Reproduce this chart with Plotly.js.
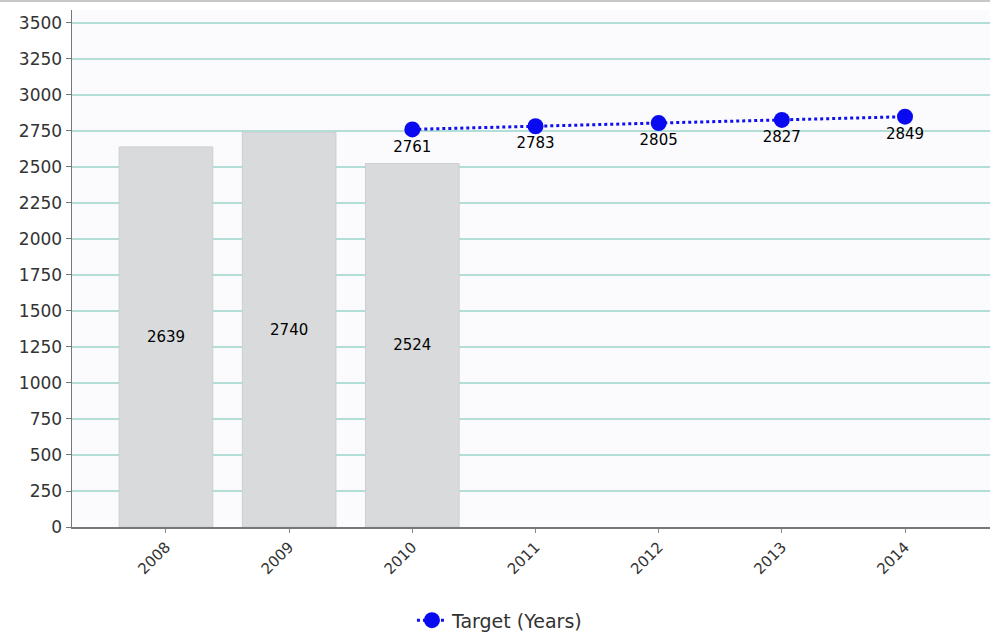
<!DOCTYPE html>
<html>
<head>
<meta charset="utf-8">
<script src="https://cdn.plot.ly/plotly-3.0.1.min.js"></script>
<style>html,body{margin:0;padding:0;background:#fff;}#chart{width:990px;height:633px;}</style>
</head>
<body>
<div id="chart"></div>
<script>
var years = ['2008', '2009', '2010', '2011', '2012', '2013', '2014'];
var actualYears = ['2008', '2009', '2010'];
var actualValues = [2639, 2740, 2524];
var targetYears = ['2010', '2011', '2012', '2013', '2014'];
var targetValues = [2761, 2783, 2805, 2827, 2849];
var targetName = 'Target (Years)';
var yTicks = [0, 250, 500, 750, 1000, 1250, 1500, 1750, 2000, 2250, 2500, 2750, 3000, 3250, 3500];

var font = 'DejaVu Sans, Verdana, sans-serif';

var bars = {
  type: 'bar',
  x: actualYears,
  y: actualValues,
  width: 0.76,
  text: actualValues.map(String),
  textposition: 'inside',
  insidetextanchor: 'middle',
  textfont: {family: font, size: 15, color: '#000'},
  marker: {color: '#d9dadc', line: {color: '#cdcecf', width: 1}},
  showlegend: false,
  hoverinfo: 'x+y'
};

var target = {
  type: 'scatter',
  mode: 'lines+markers+text',
  name: targetName,
  x: targetYears,
  y: targetValues,
  text: targetValues.map(String),
  textposition: 'bottom center',
  textfont: {family: font, size: 15, color: '#000'},
  line: {color: '#1010ee', width: 3, dash: 'dot'},
  marker: {color: '#0a0af0', size: 16, symbol: 'circle'}
};

var layout = {
  width: 990,
  height: 633,
  margin: {l: 72, r: 0, t: 10, b: 106},
  paper_bgcolor: '#ffffff',
  plot_bgcolor: '#fbfbfe',
  font: {family: font, color: '#333'},
  xaxis: {
    type: 'category',
    categoryorder: 'array',
    categoryarray: years,
    range: [-0.763, 6.69],
    tickangle: -45,
    tickfont: {family: font, size: 15, color: '#333'},
    ticks: 'outside',
    ticklen: 4,
    tickcolor: '#888',
    showline: true,
    linecolor: '#777',
    linewidth: 1.5,
    showgrid: false,
    zeroline: false
  },
  yaxis: {
    range: [0, 3590],
    tickvals: yTicks,
    ticktext: yTicks.map(String),
    tickfont: {family: font, size: 17, color: '#333'},
    ticks: 'outside',
    ticklen: 5,
    tickcolor: '#777',
    showline: true,
    linecolor: '#777',
    linewidth: 1.5,
    gridcolor: '#b3ddd7',
    gridwidth: 1.5,
    zeroline: false
  },
  showlegend: true,
  legend: {
    orientation: 'h',
    xref: 'container',
    yref: 'container',
    x: 0.505,
    xanchor: 'center',
    y: 0.02,
    yanchor: 'middle',
    font: {family: font, size: 19, color: '#333'},
    bgcolor: 'rgba(0,0,0,0)'
  },
  shapes: [{
    type: 'rect', xref: 'paper', yref: 'paper',
    x0: -0.08, x1: 1.0, y0: 1.0155, y1: 1.0195,
    line: {width: 0}, fillcolor: '#c8c8c8'
  }]
};

Plotly.newPlot('chart', [bars, target], layout, {displayModeBar: false, staticPlot: true});
</script>
</body>
</html>
